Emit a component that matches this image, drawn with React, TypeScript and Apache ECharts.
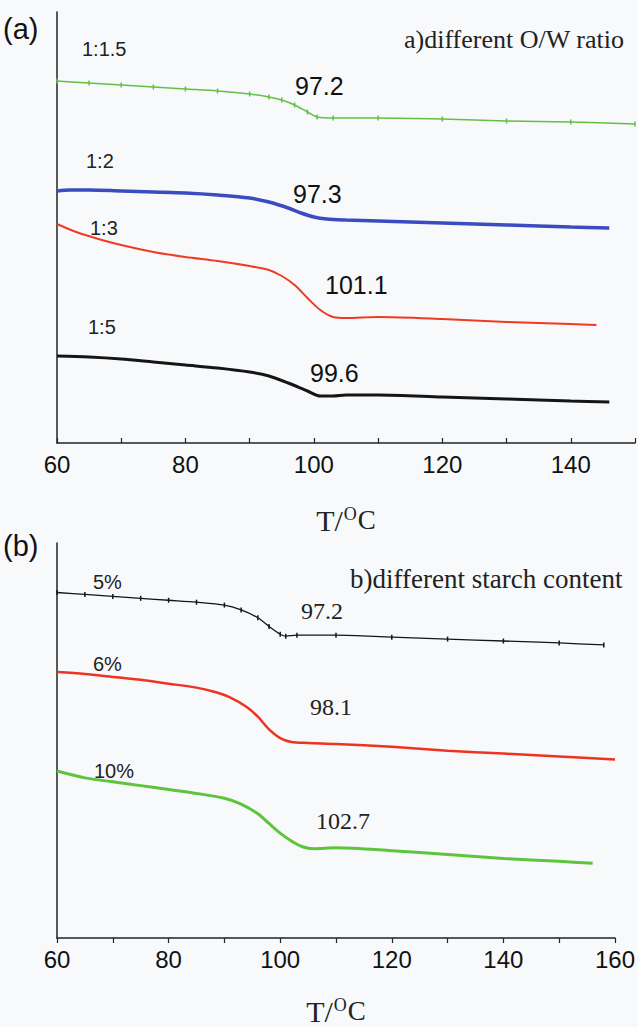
import React, { useEffect, useRef } from "react";
import * as echarts from "echarts";

// ---- Panel (a): different O/W ratio (temperature in °C, heat flow in arbitrary units) ----
const tA_15 = [60, 65, 70, 75, 80, 85, 90, 93, 95, 97, 99, 100.5, 103, 110, 120, 130, 140, 150];
const hA_15 = [362, 360, 358, 356, 354, 352, 349, 346, 343, 338, 331, 326, 325, 325, 324, 322, 321, 319];
const tA_2 = [60, 62, 65, 70, 75, 80, 85, 90, 93, 96, 98, 100, 102, 105, 110, 120, 130, 140, 146];
const hA_2 = [252, 253, 253, 252, 251, 250, 248, 245, 241, 235, 230, 226, 224, 223, 222, 220, 218, 216, 215];
const tA_3 = [60, 63, 67, 70, 75, 80, 85, 90, 93, 95, 97, 99, 101, 103, 105, 110, 120, 130, 140, 144];
const hA_3 = [219, 211, 203, 198, 191, 186, 182, 177, 173, 167, 158, 145, 133, 126, 125, 126, 124, 121, 119, 118];
const tA_5 = [60, 65, 70, 75, 80, 85, 90, 93, 96, 99, 101, 103, 105, 110, 120, 130, 140, 146];
const hA_5 = [87, 86, 84, 81, 78, 75, 71, 67, 60, 52, 47, 47, 48, 48, 46, 44, 42, 41];
const seriesNamesA = ["1:1.5", "1:2", "1:3", "1:5"];
const peakLabelsA = ["97.2", "97.3", "101.1", "99.6"];

// ---- Panel (b): different starch content ----
const tB_5 = [60, 65, 70, 75, 80, 85, 90, 93, 96, 98, 100, 101, 103, 110, 120, 130, 140, 150, 158];
const hB_5 = [356, 354, 352, 350, 348, 346, 343, 338, 330, 321, 313, 311, 312, 312, 310, 308, 306, 304, 302];
const tB_6 = [60, 65, 70, 75, 80, 85, 88, 91, 94, 96, 98, 100, 102, 105, 110, 120, 130, 140, 150, 160];
const hB_6 = [274, 272, 269, 266, 262, 258, 254, 248, 238, 228, 215, 206, 202, 201, 200, 197, 193, 190, 187, 184];
const tB_10 = [60, 65, 70, 75, 80, 85, 90, 93, 96, 98, 100, 102, 104, 106, 110, 120, 130, 140, 150, 156];
const hB_10 = [172, 165, 161, 157, 153, 149, 144, 138, 128, 118, 108, 100, 94, 92, 93, 90, 86, 82, 79, 77];
const seriesNamesB = ["5%", "6%", "10%"];
const peakLabelsB = ["97.2", "98.1", "102.7"];

const xTicksA = { min: 60, max: 150, interval: 10 };
const xTicksB = { min: 60, max: 160, interval: 10 };

const zip = (t: number[], h: number[]) => t.map((v, i) => [v, h[i]]);

const SANS = "Liberation Sans, Arial, sans-serif";
const SERIF = "Liberation Serif, Times New Roman, serif";

function xAxis(gridIndex: number, range: { min: number; max: number; interval: number }, ticksInside: boolean, nameGap: number) {
  return {
    type: "value",
    gridIndex,
    min: range.min,
    max: range.max,
    interval: range.interval,
    splitLine: { show: false },
    axisLine: { show: true, lineStyle: { color: "#222", width: 1.5 } },
    axisTick: { show: true, inside: ticksInside, length: 5, lineStyle: { color: "#222", width: 1.2 } },
    axisLabel: {
      fontFamily: SANS,
      fontSize: 24,
      color: "#111",
      margin: 9,
      showMaxLabel: true,
      formatter: (v: number) => (v % 20 === 0 ? String(v) : ""),
    },
    name: "{a|T/}{s|O}{c|C}",
    nameLocation: "middle",
    nameGap,
    nameTextStyle: {
      rich: {
        a: { fontFamily: SERIF, fontSize: 30, color: "#222" },
        s: { fontFamily: SERIF, fontSize: 18, color: "#222", padding: [0, 1, 12, 1] },
        c: { fontFamily: SERIF, fontSize: 27, color: "#222" },
      },
    },
  };
}

function yAxis(gridIndex: number, max: number) {
  return {
    type: "value",
    gridIndex,
    min: 0,
    max,
    splitLine: { show: false },
    axisLine: { show: true, lineStyle: { color: "#222", width: 1.5 } },
    axisTick: { show: false },
    axisLabel: { show: false },
  };
}

function line(name: string, data: number[][], idx: number, color: string, width: number, marker?: boolean) {
  return {
    type: "line",
    name,
    xAxisIndex: idx,
    yAxisIndex: idx,
    data,
    smooth: 0.3,
    showSymbol: !!marker,
    symbol: marker ? "rect" : "none",
    symbolSize: [1.5, 5],
    itemStyle: { color },
    lineStyle: { color, width },
  };
}

function txt(text: string, x: number, y: number, font: string, size: number, color = "#222") {
  return {
    type: "text",
    x,
    y,
    style: { text, fontFamily: font, fontSize: size, fill: color },
  };
}

export default function App() {
  const ref = useRef<HTMLDivElement>(null);
  useEffect(() => {
    if (!ref.current) return;
    const chart = echarts.init(ref.current, undefined, { renderer: "svg" });
    chart.setOption({
      animation: false,
      backgroundColor: "#f8f9fb",
      grid: [
        { left: 57, top: 12, width: 580, height: 431 },
        { left: 57, top: 543, width: 563, height: 407 },
      ],
      xAxis: [xAxis(0, xTicksA, true, 62), xAxis(1, xTicksB, false, 58)],
      yAxis: [yAxis(0, 431), yAxis(1, 407)],
      series: [
        line(seriesNamesA[0], zip(tA_15, hA_15), 0, "#62c046", 1.5, true),
        line(seriesNamesA[1], zip(tA_2, hA_2), 0, "#3b4cc0", 3.5),
        line(seriesNamesA[2], zip(tA_3, hA_3), 0, "#ef3b24", 2),
        line(seriesNamesA[3], zip(tA_5, hA_5), 0, "#151515", 3),
        line(seriesNamesB[0], zip(tB_5, hB_5), 1, "#151515", 1.3, true),
        line(seriesNamesB[1], zip(tB_6, hB_6), 1, "#ee3322", 2.5),
        line(seriesNamesB[2], zip(tB_10, hB_10), 1, "#5ec43c", 3),
      ],
      graphic: [
        txt("(a)", 3, 14, SANS, 29, "#111"),
        txt("(b)", 3, 531, SANS, 29, "#111"),
        txt("a)different O/W ratio", 404, 26, SERIF, 26),
        txt("b)different starch content", 350, 565, SERIF, 27),
        txt(seriesNamesA[0], 82, 39, SANS, 20),
        txt(seriesNamesA[1], 86, 151, SANS, 20),
        txt(seriesNamesA[2], 90, 218, SANS, 20),
        txt(seriesNamesA[3], 88, 317, SANS, 20),
        txt(peakLabelsA[0], 295, 73, SANS, 25, "#111"),
        txt(peakLabelsA[1], 293, 181, SANS, 25, "#111"),
        txt(peakLabelsA[2], 325, 272, SANS, 25, "#111"),
        txt(peakLabelsA[3], 310, 360, SANS, 25, "#111"),
        txt(seriesNamesB[0], 93, 572, SANS, 20),
        txt(seriesNamesB[1], 93, 654, SANS, 20),
        txt(seriesNamesB[2], 94, 761, SANS, 20),
        txt(peakLabelsB[0], 301, 599, SERIF, 24),
        txt(peakLabelsB[1], 310, 695, SERIF, 24),
        txt(peakLabelsB[2], 316, 809, SERIF, 24),
      ],
    });
    return () => chart.dispose();
  }, []);
  return (
    <div
      ref={ref}
      style={{ position: "absolute", left: 0, top: 0, width: 638, height: 1027 }}
    />
  );
}
